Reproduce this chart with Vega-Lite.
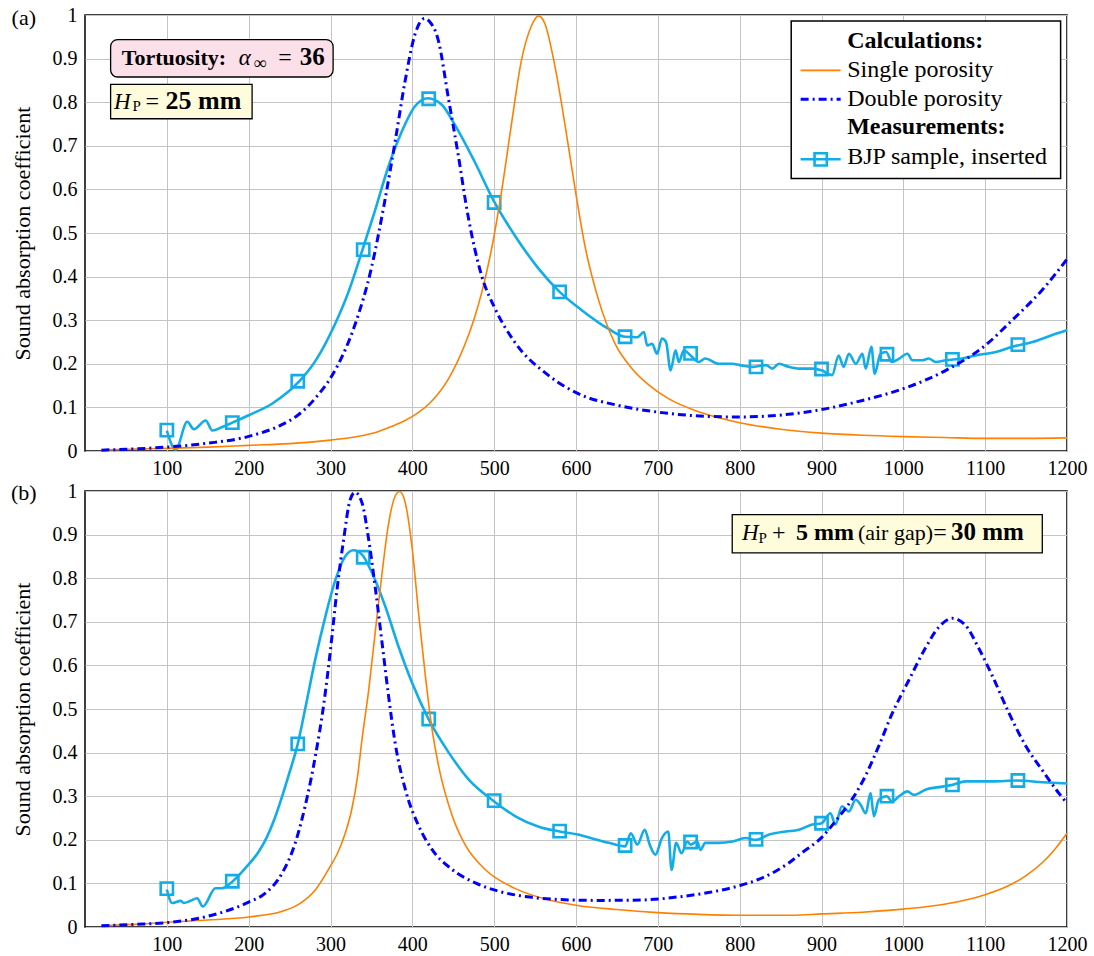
{
"$schema": "https://vega.github.io/schema/vega-lite/v6.json",
"background": "white",
"padding": {"left": 10, "top": 4, "right": 2, "bottom": 0},
"spacing": 40,
"bounds": "flush",
"config": {
  "font": "Liberation Serif",
  "view": {"stroke": "black", "strokeWidth": 1.5},
  "axis": {"labelFont": "Liberation Serif", "labelFontSize": 20, "labelColor": "black", "labelFlush": false, "titleFont": "Liberation Serif", "titleFontSize": 22, "titleFontWeight": "normal", "titleColor": "black", "gridColor": "#c4c4c4", "gridWidth": 1, "domain": false, "ticks": false}
},
"datasets": {
  "a_single": [
    {"f":20,"a":0.002},{"f":50,"a":0.004},{"f":100,"a":0.006},{"f":150,"a":0.009},{"f":200,"a":0.013},{"f":250,"a":0.017},{"f":300,"a":0.025},{"f":330,"a":0.032},{"f":350,"a":0.04},{"f":370,"a":0.053},{"f":390,"a":0.069},{"f":405,"a":0.085},{"f":423,"a":0.113},{"f":444,"a":0.165},{"f":464,"a":0.243},{"f":475,"a":0.3},{"f":485,"a":0.365},{"f":497,"a":0.465},{"f":509,"a":0.595},{"f":521,"a":0.748},{"f":533,"a":0.893},{"f":546,"a":0.977},{"f":554,"a":0.998},{"f":562,"a":0.98},{"f":574,"a":0.885},{"f":586,"a":0.755},{"f":599,"a":0.6},{"f":611,"a":0.47},{"f":627,"a":0.35},{"f":648,"a":0.245},{"f":668,"a":0.19},{"f":690,"a":0.15},{"f":713,"a":0.12},{"f":750,"a":0.09},{"f":800,"a":0.065},{"f":850,"a":0.05},{"f":900,"a":0.041},{"f":950,"a":0.036},{"f":1000,"a":0.033},{"f":1050,"a":0.031},{"f":1100,"a":0.029},{"f":1150,"a":0.029},{"f":1200,"a":0.03}
  ],
  "a_double": [
    {"f":20,"a":0.002},{"f":50,"a":0.004},{"f":100,"a":0.009},{"f":151,"a":0.018},{"f":199,"a":0.033},{"f":240,"a":0.06},{"f":260,"a":0.082},{"f":281,"a":0.12},{"f":309,"a":0.197},{"f":330,"a":0.29},{"f":350,"a":0.42},{"f":366,"a":0.57},{"f":379,"a":0.71},{"f":391,"a":0.847},{"f":403,"a":0.954},{"f":409,"a":0.982},{"f":415,"a":0.992},{"f":421,"a":0.985},{"f":432,"a":0.94},{"f":444,"a":0.81},{"f":456,"a":0.68},{"f":468,"a":0.54},{"f":485,"a":0.4},{"f":501,"a":0.327},{"f":525,"a":0.25},{"f":566,"a":0.174},{"f":607,"a":0.128},{"f":648,"a":0.106},{"f":705,"a":0.088},{"f":766,"a":0.079},{"f":800,"a":0.078},{"f":848,"a":0.082},{"f":900,"a":0.095},{"f":950,"a":0.116},{"f":1000,"a":0.143},{"f":1052,"a":0.185},{"f":1100,"a":0.242},{"f":1133,"a":0.3},{"f":1170,"a":0.37},{"f":1200,"a":0.44}
  ],
  "a_meas": [
    {"f":100,"a":0.047},{"f":110.8,"a":0.003},{"f":125,"a":0.067},{"f":133,"a":0.05},{"f":147.5,"a":0.07},{"f":155.6,"a":0.047},{"f":167.6,"a":0.055},{"f":180,"a":0.065},{"f":200,"a":0.082},{"f":229,"a":0.109},{"f":262,"a":0.16},{"f":281,"a":0.205},{"f":305,"a":0.289},{"f":322,"a":0.365},{"f":339,"a":0.461},{"f":354,"a":0.549},{"f":370,"a":0.648},{"f":387,"a":0.732},{"f":403,"a":0.79},{"f":419,"a":0.809},{"f":436,"a":0.794},{"f":452,"a":0.748},{"f":476,"a":0.664},{"f":500,"a":0.572},{"f":525,"a":0.495},{"f":554,"a":0.419},{"f":580,"a":0.365},{"f":607,"a":0.323},{"f":639,"a":0.281},{"f":660,"a":0.262},{"f":675,"a":0.261},{"f":683,"a":0.273},{"f":687,"a":0.242},{"f":693,"a":0.246},{"f":699,"a":0.223},{"f":705,"a":0.258},{"f":710,"a":0.25},{"f":715.6,"a":0.185},{"f":721.7,"a":0.231},{"f":725.7,"a":0.204},{"f":731.8,"a":0.231},{"f":740,"a":0.219},{"f":750,"a":0.204},{"f":758,"a":0.212},{"f":774,"a":0.2},{"f":791,"a":0.2},{"f":800,"a":0.197},{"f":815,"a":0.193},{"f":832,"a":0.197},{"f":840,"a":0.189},{"f":848,"a":0.2},{"f":860,"a":0.193},{"f":872.5,"a":0.189},{"f":889,"a":0.189},{"f":900,"a":0.185},{"f":913,"a":0.174},{"f":921,"a":0.219},{"f":927,"a":0.193},{"f":933.5,"a":0.223},{"f":942,"a":0.2},{"f":950,"a":0.223},{"f":954,"a":0.189},{"f":961,"a":0.239},{"f":965,"a":0.177},{"f":972,"a":0.223},{"f":979,"a":0.227},{"f":986,"a":0.204},{"f":995,"a":0.212},{"f":1005,"a":0.223},{"f":1011,"a":0.208},{"f":1023,"a":0.208},{"f":1031,"a":0.212},{"f":1039.5,"a":0.204},{"f":1052,"a":0.208},{"f":1072,"a":0.212},{"f":1088,"a":0.219},{"f":1113,"a":0.227},{"f":1133,"a":0.239},{"f":1158,"a":0.25},{"f":1182,"a":0.266},{"f":1200,"a":0.277}
  ],
  "a_marks": [
    {"f":100,"a":0.048},{"f":180,"a":0.065},{"f":260,"a":0.16},{"f":340,"a":0.462},{"f":420,"a":0.808},{"f":500,"a":0.57},{"f":580,"a":0.365},{"f":660,"a":0.262},{"f":740,"a":0.224},{"f":820,"a":0.193},{"f":900,"a":0.188},{"f":980,"a":0.222},{"f":1060,"a":0.21},{"f":1140,"a":0.244}
  ],
  "b_single": [
    {"f":20,"a":0.003},{"f":60,"a":0.006},{"f":100,"a":0.011},{"f":150,"a":0.016},{"f":200,"a":0.023},{"f":241,"a":0.036},{"f":261,"a":0.052},{"f":281.5,"a":0.085},{"f":300,"a":0.14},{"f":310,"a":0.175},{"f":318,"a":0.215},{"f":326,"a":0.27},{"f":333,"a":0.345},{"f":338.5,"a":0.43},{"f":346.7,"a":0.544},{"f":355,"a":0.682},{"f":363,"a":0.812},{"f":371,"a":0.926},{"f":379,"a":0.988},{"f":384.6,"a":0.999},{"f":391.5,"a":0.972},{"f":400,"a":0.865},{"f":408,"a":0.713},{"f":416,"a":0.575},{"f":424,"a":0.455},{"f":432,"a":0.37},{"f":448.6,"a":0.256},{"f":465,"a":0.187},{"f":489,"a":0.132},{"f":526,"a":0.088},{"f":567,"a":0.062},{"f":600,"a":0.05},{"f":650,"a":0.04},{"f":700,"a":0.033},{"f":750,"a":0.029},{"f":800,"a":0.027},{"f":864,"a":0.027},{"f":900,"a":0.03},{"f":950,"a":0.034},{"f":1000,"a":0.041},{"f":1050,"a":0.052},{"f":1100,"a":0.074},{"f":1129,"a":0.095},{"f":1150,"a":0.118},{"f":1170,"a":0.148},{"f":1185,"a":0.178},{"f":1200,"a":0.215}
  ],
  "b_double": [
    {"f":20,"a":0.003},{"f":60,"a":0.006},{"f":100,"a":0.01},{"f":139,"a":0.02},{"f":170,"a":0.035},{"f":200,"a":0.057},{"f":220,"a":0.077},{"f":241,"a":0.124},{"f":257,"a":0.193},{"f":269,"a":0.277},{"f":281.5,"a":0.392},{"f":292,"a":0.514},{"f":300,"a":0.636},{"f":308,"a":0.774},{"f":316,"a":0.888},{"f":324,"a":0.98},{"f":330,"a":0.997},{"f":338.5,"a":0.973},{"f":346.7,"a":0.888},{"f":355,"a":0.774},{"f":363,"a":0.652},{"f":371,"a":0.529},{"f":379,"a":0.422},{"f":391.5,"a":0.315},{"f":408,"a":0.231},{"f":424,"a":0.178},{"f":448.6,"a":0.132},{"f":477,"a":0.101},{"f":505.6,"a":0.082},{"f":546,"a":0.068},{"f":579,"a":0.063},{"f":628,"a":0.061},{"f":680,"a":0.062},{"f":725,"a":0.069},{"f":762,"a":0.079},{"f":800,"a":0.095},{"f":823,"a":0.109},{"f":844,"a":0.128},{"f":860,"a":0.147},{"f":876,"a":0.17},{"f":900,"a":0.205},{"f":921,"a":0.252},{"f":937,"a":0.292},{"f":950,"a":0.333},{"f":970,"a":0.415},{"f":986,"a":0.488},{"f":1007,"a":0.567},{"f":1027,"a":0.64},{"f":1043,"a":0.687},{"f":1060,"a":0.708},{"f":1076,"a":0.692},{"f":1092,"a":0.64},{"f":1109,"a":0.575},{"f":1129,"a":0.491},{"f":1150,"a":0.414},{"f":1170,"a":0.359},{"f":1190,"a":0.307},{"f":1200,"a":0.284}
  ],
  "b_meas": [
    {"f":100,"a":0.086},{"f":106.5,"a":0.055},{"f":116.7,"a":0.06},{"f":120.7,"a":0.055},{"f":129,"a":0.06},{"f":137,"a":0.066},{"f":144,"a":0.047},{"f":159.5,"a":0.089},{"f":167.6,"a":0.089},{"f":180,"a":0.104},{"f":196,"a":0.135},{"f":212,"a":0.172},{"f":222,"a":0.205},{"f":232,"a":0.25},{"f":241,"a":0.3},{"f":250,"a":0.355},{"f":260,"a":0.42},{"f":269,"a":0.5},{"f":281.5,"a":0.615},{"f":293.7,"a":0.712},{"f":306,"a":0.796},{"f":318,"a":0.85},{"f":328,"a":0.864},{"f":338.5,"a":0.854},{"f":350.8,"a":0.812},{"f":367,"a":0.735},{"f":383,"a":0.644},{"f":399.7,"a":0.56},{"f":420,"a":0.476},{"f":444.5,"a":0.4},{"f":469,"a":0.338},{"f":500,"a":0.288},{"f":526,"a":0.254},{"f":554.5,"a":0.23},{"f":580,"a":0.219},{"f":607,"a":0.21},{"f":620,"a":0.203},{"f":640,"a":0.193},{"f":660,"a":0.185},{"f":667,"a":0.215},{"f":675,"a":0.189},{"f":684,"a":0.223},{"f":690,"a":0.189},{"f":697,"a":0.166},{"f":705,"a":0.204},{"f":712.7,"a":0.219},{"f":716.8,"a":0.131},{"f":722.4,"a":0.193},{"f":729,"a":0.169},{"f":736,"a":0.196},{"f":740,"a":0.189},{"f":748,"a":0.196},{"f":752,"a":0.177},{"f":758,"a":0.193},{"f":774,"a":0.193},{"f":791,"a":0.196},{"f":807,"a":0.204},{"f":820,"a":0.2},{"f":836,"a":0.212},{"f":856,"a":0.219},{"f":872.5,"a":0.223},{"f":888.7,"a":0.235},{"f":900,"a":0.238},{"f":911,"a":0.261},{"f":917,"a":0.235},{"f":925,"a":0.277},{"f":933.5,"a":0.265},{"f":941.8,"a":0.292},{"f":948,"a":0.28},{"f":954,"a":0.261},{"f":960,"a":0.307},{"f":964,"a":0.254},{"f":970,"a":0.292},{"f":980,"a":0.3},{"f":986,"a":0.288},{"f":995,"a":0.3},{"f":1005,"a":0.311},{"f":1013,"a":0.303},{"f":1027,"a":0.315},{"f":1048,"a":0.322},{"f":1060,"a":0.326},{"f":1076,"a":0.334},{"f":1109,"a":0.334},{"f":1139,"a":0.336},{"f":1170,"a":0.332},{"f":1200,"a":0.329}
  ],
  "b_marks": [
    {"f":100,"a":0.088},{"f":180,"a":0.105},{"f":260,"a":0.42},{"f":340,"a":0.848},{"f":420,"a":0.477},{"f":500,"a":0.29},{"f":580,"a":0.22},{"f":660,"a":0.187},{"f":740,"a":0.195},{"f":820,"a":0.201},{"f":900,"a":0.238},{"f":980,"a":0.3},{"f":1060,"a":0.326},{"f":1140,"a":0.336}
  ]
},
"vconcat": [
{
  "width": 982, "height": 436,
  "layer": [
    {"data": {"name": "a_meas"},
     "mark": {"type": "line", "color": "#12ADE8", "strokeWidth": 2.6, "interpolate": "monotone"},
     "encoding": {
       "x": {"field": "f", "type": "quantitative", "scale": {"domain": [0, 1200], "nice": false, "zero": false},
             "axis": {"values": [100,200,300,400,500,600,700,800,900,1000,1100,1200], "format": "d", "title": null, "labelPadding": 7, "grid": true}},
       "y": {"field": "a", "type": "quantitative", "scale": {"domain": [0, 1], "nice": false},
             "axis": {"values": [0,0.1,0.2,0.3,0.4,0.5,0.6,0.7,0.8,0.9,1], "format": "~g", "title": "Sound absorption coefficient", "titlePadding": 18, "labelPadding": 8, "grid": true}}
     }},
    {"data": {"name": "a_marks"},
     "mark": {"type": "point", "shape": "square", "size": 150, "filled": false, "stroke": "#12ADE8", "strokeWidth": 2.6, "opacity": 1},
     "encoding": {"x": {"field": "f", "type": "quantitative"}, "y": {"field": "a", "type": "quantitative"}}},
    {"data": {"name": "a_single"},
     "mark": {"type": "line", "color": "#FF8000", "strokeWidth": 1.6, "interpolate": "monotone"},
     "encoding": {"x": {"field": "f", "type": "quantitative"}, "y": {"field": "a", "type": "quantitative"}}},
    {"data": {"name": "a_double"},
     "mark": {"type": "line", "color": "#0000FF", "strokeWidth": 3, "strokeDash": [8, 4, 2, 4], "interpolate": "monotone"},
     "encoding": {"x": {"field": "f", "type": "quantitative"}, "y": {"field": "a", "type": "quantitative"}}},

    {"data": {"values": [{}]}, "mark": {"type": "text", "text": "(a)", "fontSize": 22, "align": "center", "baseline": "alphabetic"},
     "encoding": {"x": {"datum": -74.8}, "y": {"datum": 0.976}}},

    {"data": {"values": [{}]}, "mark": {"type": "rect", "fill": "#FBDFE9", "stroke": "black", "strokeWidth": 1.3, "cornerRadius": 7},
     "encoding": {"x": {"datum": 31.3}, "x2": {"datum": 303.2}, "y": {"datum": 0.9436}, "y2": {"datum": 0.8578}}},
    {"data": {"values": [{}]}, "mark": {"type": "text", "text": "Tortuosity:", "fontSize": 22, "fontWeight": "bold", "align": "left", "baseline": "alphabetic"},
     "encoding": {"x": {"datum": 45}, "y": {"datum": 0.8846}}},
    {"data": {"values": [{}]}, "mark": {"type": "text", "text": "α", "fontSize": 23, "fontStyle": "italic", "align": "left", "baseline": "alphabetic"},
     "encoding": {"x": {"datum": 188}, "y": {"datum": 0.8846}}},
    {"data": {"values": [{}]}, "mark": {"type": "text", "text": "∞", "fontSize": 18, "align": "left", "baseline": "alphabetic"},
     "encoding": {"x": {"datum": 206}, "y": {"datum": 0.876}}},
    {"data": {"values": [{}]}, "mark": {"type": "text", "text": "=", "fontSize": 24, "align": "left", "baseline": "alphabetic"},
     "encoding": {"x": {"datum": 236}, "y": {"datum": 0.8846}}},
    {"data": {"values": [{}]}, "mark": {"type": "text", "text": "36", "fontSize": 25, "fontWeight": "bold", "align": "left", "baseline": "alphabetic"},
     "encoding": {"x": {"datum": 262.5}, "y": {"datum": 0.8846}}},

    {"data": {"values": [{}]}, "mark": {"type": "rect", "fill": "#FFFCDC", "stroke": "black", "strokeWidth": 1.3},
     "encoding": {"x": {"datum": 31.3}, "x2": {"datum": 204.2}, "y": {"datum": 0.841}, "y2": {"datum": 0.762}}},
    {"data": {"values": [{}]}, "mark": {"type": "text", "text": "H", "fontSize": 23, "fontStyle": "italic", "align": "left", "baseline": "alphabetic"},
     "encoding": {"x": {"datum": 35.5}, "y": {"datum": 0.785}}},
    {"data": {"values": [{}]}, "mark": {"type": "text", "text": "P", "fontSize": 15, "align": "left", "baseline": "alphabetic"},
     "encoding": {"x": {"datum": 58}, "y": {"datum": 0.779}}},
    {"data": {"values": [{}]}, "mark": {"type": "text", "text": "=", "fontSize": 24, "align": "left", "baseline": "alphabetic"},
     "encoding": {"x": {"datum": 74}, "y": {"datum": 0.785}}},
    {"data": {"values": [{}]}, "mark": {"type": "text", "text": "25 mm", "fontSize": 26, "fontWeight": "bold", "align": "left", "baseline": "alphabetic"},
     "encoding": {"x": {"datum": 98.4}, "y": {"datum": 0.785}}},

    {"data": {"values": [{}]}, "mark": {"type": "rect", "fill": "white", "stroke": "black", "strokeWidth": 1.5},
     "encoding": {"x": {"datum": 863}, "x2": {"datum": 1192.2}, "y": {"datum": 0.986}, "y2": {"datum": 0.625}}},
    {"data": {"values": [{}]}, "mark": {"type": "text", "text": "Calculations:", "fontSize": 24, "fontWeight": "bold", "align": "left", "baseline": "alphabetic"},
     "encoding": {"x": {"datum": 931.4}, "y": {"datum": 0.925}}},
    {"data": {"values": [{}]}, "mark": {"type": "rule", "color": "#FF8000", "strokeWidth": 1.6},
     "encoding": {"x": {"datum": 874.5}, "x2": {"datum": 923.4}, "y": {"datum": 0.873}}},
    {"data": {"values": [{}]}, "mark": {"type": "text", "text": "Single porosity", "fontSize": 24, "align": "left", "baseline": "alphabetic"},
     "encoding": {"x": {"datum": 931.4}, "y": {"datum": 0.858}}},
    {"data": {"values": [{}]}, "mark": {"type": "rule", "color": "#0000FF", "strokeWidth": 3, "strokeDash": [8, 4, 2, 4]},
     "encoding": {"x": {"datum": 874.5}, "x2": {"datum": 923.4}, "y": {"datum": 0.807}}},
    {"data": {"values": [{}]}, "mark": {"type": "text", "text": "Double porosity", "fontSize": 24, "align": "left", "baseline": "alphabetic"},
     "encoding": {"x": {"datum": 931.4}, "y": {"datum": 0.791}}},
    {"data": {"values": [{}]}, "mark": {"type": "text", "text": "Measurements:", "fontSize": 24, "fontWeight": "bold", "align": "left", "baseline": "alphabetic"},
     "encoding": {"x": {"datum": 931.4}, "y": {"datum": 0.728}}},
    {"data": {"values": [{}]}, "mark": {"type": "rule", "color": "#12ADE8", "strokeWidth": 2.6},
     "encoding": {"x": {"datum": 874.5}, "x2": {"datum": 923.4}, "y": {"datum": 0.669}}},
    {"data": {"values": [{}]}, "mark": {"type": "point", "shape": "square", "size": 150, "filled": false, "stroke": "#12ADE8", "strokeWidth": 2.6, "opacity": 1},
     "encoding": {"x": {"datum": 899}, "y": {"datum": 0.669}}},
    {"data": {"values": [{}]}, "mark": {"type": "text", "text": "BJP sample, inserted", "fontSize": 24, "align": "left", "baseline": "alphabetic"},
     "encoding": {"x": {"datum": 931.4}, "y": {"datum": 0.659}}}
  ]
},
{
  "width": 982, "height": 436,
  "layer": [
    {"data": {"name": "b_meas"},
     "mark": {"type": "line", "color": "#12ADE8", "strokeWidth": 2.6, "interpolate": "monotone"},
     "encoding": {
       "x": {"field": "f", "type": "quantitative", "scale": {"domain": [0, 1200], "nice": false, "zero": false},
             "axis": {"values": [100,200,300,400,500,600,700,800,900,1000,1100,1200], "format": "d", "title": null, "labelPadding": 7, "grid": true}},
       "y": {"field": "a", "type": "quantitative", "scale": {"domain": [0, 1], "nice": false},
             "axis": {"values": [0,0.1,0.2,0.3,0.4,0.5,0.6,0.7,0.8,0.9,1], "format": "~g", "title": "Sound absorption coefficient", "titlePadding": 18, "labelPadding": 8, "grid": true}}
     }},
    {"data": {"name": "b_marks"},
     "mark": {"type": "point", "shape": "square", "size": 150, "filled": false, "stroke": "#12ADE8", "strokeWidth": 2.6, "opacity": 1},
     "encoding": {"x": {"field": "f", "type": "quantitative"}, "y": {"field": "a", "type": "quantitative"}}},
    {"data": {"name": "b_single"},
     "mark": {"type": "line", "color": "#FF8000", "strokeWidth": 1.6, "interpolate": "monotone"},
     "encoding": {"x": {"field": "f", "type": "quantitative"}, "y": {"field": "a", "type": "quantitative"}}},
    {"data": {"name": "b_double"},
     "mark": {"type": "line", "color": "#0000FF", "strokeWidth": 3, "strokeDash": [8, 4, 2, 4], "interpolate": "monotone"},
     "encoding": {"x": {"field": "f", "type": "quantitative"}, "y": {"field": "a", "type": "quantitative"}}},

    {"data": {"values": [{}]}, "mark": {"type": "text", "text": "(b)", "fontSize": 22, "align": "center", "baseline": "alphabetic"},
     "encoding": {"x": {"datum": -74.8}, "y": {"datum": 0.98}}},

    {"data": {"values": [{}]}, "mark": {"type": "rect", "fill": "#FFFCDC", "stroke": "black", "strokeWidth": 1.3},
     "encoding": {"x": {"datum": 790.9}, "x2": {"datum": 1169.8}, "y": {"datum": 0.9456}, "y2": {"datum": 0.858}}},
    {"data": {"values": [{}]}, "mark": {"type": "text", "text": "H", "fontSize": 23, "fontStyle": "italic", "align": "left", "baseline": "alphabetic"},
     "encoding": {"x": {"datum": 802.7}, "y": {"datum": 0.888}}},
    {"data": {"values": [{}]}, "mark": {"type": "text", "text": "P", "fontSize": 15, "align": "left", "baseline": "alphabetic"},
     "encoding": {"x": {"datum": 822.9}, "y": {"datum": 0.881}}},
    {"data": {"values": [{}]}, "mark": {"type": "text", "text": "+", "fontSize": 24, "align": "left", "baseline": "alphabetic"},
     "encoding": {"x": {"datum": 839.4}, "y": {"datum": 0.888}}},
    {"data": {"values": [{}]}, "mark": {"type": "text", "text": "5 mm", "fontSize": 24, "fontWeight": "bold", "align": "left", "baseline": "alphabetic"},
     "encoding": {"x": {"datum": 868.7}, "y": {"datum": 0.888}}},
    {"data": {"values": [{}]}, "mark": {"type": "text", "text": "(air gap)", "fontSize": 22, "align": "left", "baseline": "alphabetic"},
     "encoding": {"x": {"datum": 944.5}, "y": {"datum": 0.888}}},
    {"data": {"values": [{}]}, "mark": {"type": "text", "text": "=", "fontSize": 24, "align": "left", "baseline": "alphabetic"},
     "encoding": {"x": {"datum": 1036.5}, "y": {"datum": 0.888}}},
    {"data": {"values": [{}]}, "mark": {"type": "text", "text": "30 mm", "fontSize": 25, "fontWeight": "bold", "align": "left", "baseline": "alphabetic"},
     "encoding": {"x": {"datum": 1058.2}, "y": {"datum": 0.888}}}
  ]
}
]
}
